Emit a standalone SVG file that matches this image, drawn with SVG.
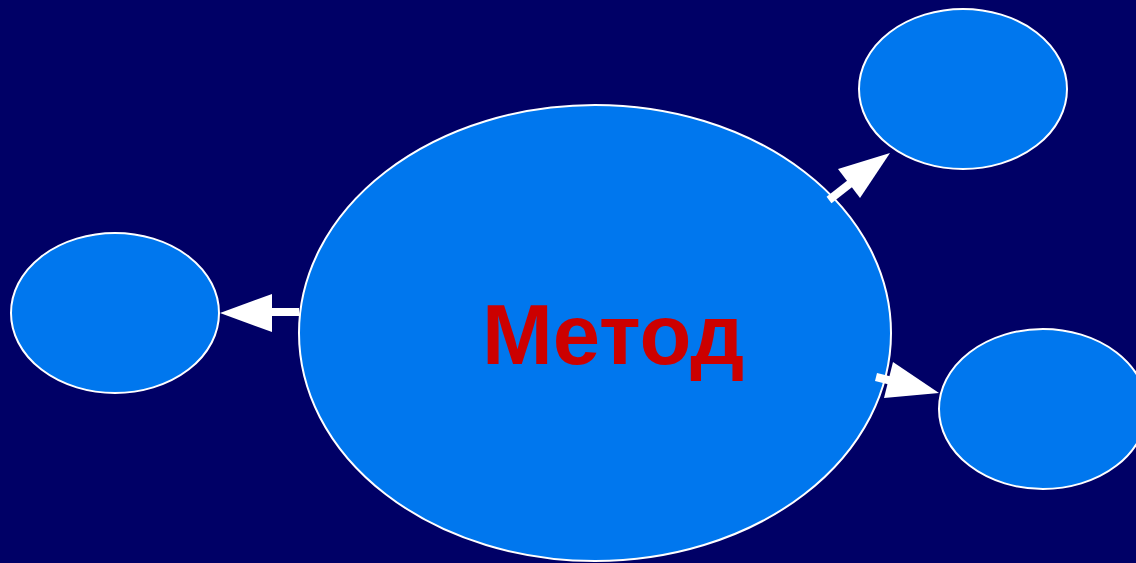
<svg xmlns="http://www.w3.org/2000/svg" width="1136" height="563" viewBox="0 0 1136 563">
<style>
.node{fill:#0077EE;stroke:#FFFFFF;stroke-width:2}
.shaft{stroke:#FFFFFF;stroke-width:8;fill:none}
.head{fill:#FFFFFF;stroke:none}
.label{font-family:"Liberation Sans",Arial,sans-serif;font-weight:bold;font-size:85px;fill:#CC0000}
</style>
<rect x="0" y="0" width="1136" height="563" fill="#000066"/>
<g id="main">
<ellipse class="node" cx="595" cy="333" rx="296" ry="228"/>
<text class="label" x="482" y="364">Метод</text>
</g>
<g id="left">
<ellipse class="node" cx="115" cy="313" rx="104" ry="80"/>
</g>
<g id="topright">
<ellipse class="node" cx="963" cy="89" rx="104" ry="80"/>
</g>
<g id="bottomright">
<ellipse class="node" cx="1043" cy="409" rx="104" ry="80"/>
</g>
<g id="connectors">
<line class="shaft" x1="299" y1="312" x2="268" y2="312"/>
<polygon class="head" points="220,313 272,294 272,332"/>
<line class="shaft" x1="829" y1="200" x2="852" y2="182"/>
<polygon class="head" points="890,153 838,169 860,198"/>
<line class="shaft" x1="876" y1="377" x2="892" y2="381"/>
<polygon class="head" points="939,393 893,362 884,398"/>
</g>
</svg>
